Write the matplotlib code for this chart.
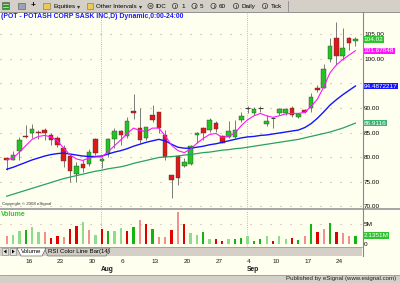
import matplotlib
matplotlib.use('Agg')
import matplotlib.pyplot as plt
from matplotlib.patches import Rectangle, Circle, Polygon
import matplotlib.transforms as mtransforms

# ---------------- data ----------------
opens = [79.7, 79.4, 81.3, 84.3, 84.8, 85.1, 85.5, 84.5, 83.8, 81.9,
         80.3, 76.5, 78.6, 78.5, 83.7, 79.2, 80.8, 83.7, 85.3, 84.3,
         89.4, 85.9, 83.8, 88.6, 89.1, 84.4, 76.3, 80.3, 78.2, 78.6,
         84.5, 85.9, 85.5, 87.0, 84.3, 84.0, 84.1, 87.5, 89.9, 89.0,
         89.9, 86.7, 87.9, 88.9, 88.9, 89.9, 88.1, 89.6, 89.9, 94.1,
         94.1, 99.9, 104.2, 100.7, 104.3, 103.7]
highs = [80.1, 81.3, 84.0, 86.5, 86.7, 85.6, 85.9, 84.8, 84.2, 82.4,
         80.4, 79.0, 79.4, 81.6, 83.9, 80.1, 83.8, 85.9, 85.5, 88.2,
         92.8, 89.9, 86.2, 90.6, 89.2, 85.5, 76.4, 80.4, 79.7, 82.5,
         85.2, 86.2, 87.9, 87.4, 84.5, 87.4, 87.5, 89.2, 90.4, 90.3,
         90.4, 88.6, 88.2, 90.1, 90.1, 90.4, 89.0, 89.7, 93.0, 94.7,
         98.9, 104.3, 107.5, 106.3, 104.5, 104.4]
lows = [77.4, 79.3, 79.4, 83.9, 83.8, 83.6, 83.5, 82.4, 82.1, 78.0,
        75.0, 74.8, 77.0, 78.2, 80.4, 77.7, 80.1, 81.8, 82.5, 83.8,
        87.8, 82.8, 83.5, 87.2, 84.8, 79.4, 71.6, 74.3, 77.9, 78.4,
        82.8, 83.5, 85.2, 85.2, 82.8, 83.8, 83.8, 87.2, 88.9, 88.6,
        89.2, 86.3, 85.9, 88.6, 88.5, 88.2, 87.9, 89.0, 89.2, 93.3,
        94.0, 99.3, 98.8, 99.8, 101.8, 102.6]
closes = [79.3, 80.5, 83.5, 84.1, 85.7, 84.8, 84.8, 83.5, 82.4, 79.2,
          77.2, 78.2, 77.7, 81.0, 80.8, 79.6, 83.7, 85.3, 84.5, 87.4,
          89.0, 83.5, 86.1, 87.5, 85.9, 80.1, 75.3, 75.8, 79.0, 82.3,
          85.0, 85.0, 87.5, 85.7, 82.9, 85.4, 85.5, 88.4, 89.95, 89.7,
          89.95, 87.4, 87.95, 89.7, 89.7, 88.6, 88.8, 89.2, 92.3, 93.7,
          97.9, 102.7, 100.7, 102.2, 103.3, 104.02]
# candle colour from the RSI colour study: g = green, r = red, d = doji
bar_colors = list("rggrgrrrrr"
                  "rgrgrgggrg"
                  "rrgrrrrrgg"
                  "grgrrgggdg"
                  "dgdggrgrgr"
                  "ggrgrg")
ma_fast = [79.4, 79.8, 81.0, 82.3, 83.6, 84.2, 84.4, 84.1, 83.3, 81.8,
           80.4, 79.6, 79.3, 79.8, 80.0, 80.0, 81.1, 82.3, 83.5, 84.8,
           85.9, 85.4, 85.2, 85.9, 85.9, 84.3, 82.4, 81.3, 80.9, 81.6,
           82.8, 83.8, 84.6, 84.8, 84.0, 84.2, 84.9, 86.4, 87.6, 88.4,
           88.9, 88.4, 88.1, 88.4, 88.8, 88.9, 88.9, 89.1, 90.3, 91.8,
           94.3, 97.2, 98.8, 99.9, 100.8, 101.67848]
ma_mid = [77.5, 77.9, 78.4, 78.9, 79.4, 79.8, 80.2, 80.5, 80.7, 80.8,
          80.6, 80.4, 80.2, 80.1, 80.1, 80.2, 80.6, 81.0, 81.3, 81.7,
          82.2, 82.6, 83.0, 83.3, 83.6, 83.3, 82.6, 82.0, 81.8, 81.8,
          82.0, 82.2, 82.5, 82.7, 83.0, 83.3, 83.6, 83.9, 84.1, 84.2,
          84.4, 84.5, 84.7, 84.9, 85.1, 85.3, 85.5, 86.0, 86.8, 87.9,
          89.2, 90.6, 91.7, 92.7, 93.6, 94.4872217]
ma_slow = [72.0, 72.4, 72.8, 73.2, 73.6, 74.0, 74.4, 74.8, 75.2, 75.6,
           75.9, 76.2, 76.5, 76.8, 77.1, 77.3, 77.6, 77.8, 78.0, 78.3,
           78.7, 79.0, 79.3, 79.6, 79.9, 80.0, 80.1, 80.2, 80.4, 80.5,
           80.7, 80.9, 81.0, 81.2, 81.4, 81.5, 81.7, 81.8, 82.0, 82.2,
           82.4, 82.6, 82.8, 83.0, 83.2, 83.4, 83.6, 83.9, 84.2, 84.5,
           84.8, 85.1, 85.5, 85.9, 86.4, 86.9116]
volumes = [2.08, 2.33, 3.33, 3.58, 4.42, 3.0, 3.0, 1.5, 2.17, 1.92,
           3.75, 4.67, 5.58, 3.58, 2.33, 3.83, 3.42, 3.42, 4.17, 3.42,
           4.42, 6.08, 5.08, 3.75, 1.92, 1.92, 3.58, 8.17, 5.08, 2.75,
           2.33, 3.08, 1.25, 1.25, 0.92, 1.25, 1.25, 1.67, 2.08, 0.92,
           1.25, 2.17, 0.92, 2.17, 1.25, 1.67, 1.08, 2.17, 5.0, 3.0,
           3.75, 5.25, 3.0, 2.75, 2.08, 2.1351]
vol_colors = ["lr", "lg", "lg", "g", "lg", "lg", "lr", "r", "r", "lr",
              "r", "r", "lg", "lr", "lg", "r", "g", "lg", "lg", "r",
              "g", "lr", "r", "g", "lr", "lr", "r", "lr", "r", "lg",
              "lg", "g", "lg", "r", "r", "lg", "g", "g", "lg", "g",
              "g", "lg", "r", "lg", "lg", "r", "g", "lr", "g", "r",
              "lr", "g", "r", "lr", "lr", "g"]
day_labels = ['16', '23', '30', '6', '13', '20', '27', '4', '10', '17', '24']
day_index = [3, 8, 13, 18, 23, 28, 33, 38, 42, 47, 52]
month_labels = ['Aug', 'Sep']
month_index = [15, 38]
price_ticks = [70, 75, 80, 85, 90, 95, 100, 105]
hidden_ticks = [95]   # covered by the blue value box in the original

# ---------------- style ----------------
CREAM = '#fffff0'
GRAY = '#d4d0c8'
FONT = ['Liberation Sans', 'DejaVu Sans']
plt.rcParams['font.family'] = FONT
W, H = 400, 283
fig = plt.figure(figsize=(4, 2.83), dpi=100)
fig.patch.set_facecolor(CREAM)


def fpos(x0, y0, x1, y1):
    return [x0 / W, 1 - y1 / H, (x1 - x0) / W, (y1 - y0) / H]


ax = fig.add_axes(fpos(0, 12, 362, 209))
axv = fig.add_axes(fpos(0, 210, 362, 247))
for a in (ax, axv):
    a.set_facecolor(CREAM)
    for s in a.spines.values():
        s.set_visible(False)
    a.set_xlim(-1.057, 56.04)
    a.set_xticks([])
    a.yaxis.tick_right()
    a.tick_params(axis='y', length=0, pad=1.5, labelsize=4.6, labelcolor='#000000')

ax.set_ylim(69.39, 109.59)
axv.set_ylim(-0.675, 8.575)

# grid (dotted rows) and month separators
for p in price_ticks:
    ax.axhline(p, color='#c8a8a8', lw=0.8, ls=(0, (1, 8)), zorder=0)
axv.axhline(5, color='#c8a8a8', lw=0.8, ls=(0, (1, 8)), zorder=0)
for mi in month_index:
    for a in (ax, axv):
        a.axvline(mi - 0.05, color='#e08a8a', lw=0.6, ls=(0, (1, 1.6)), zorder=0)

ax.set_yticks(price_ticks)
ax.set_yticklabels(['' if p in hidden_ticks else '%.2f' % p for p in price_ticks])
axv.set_yticks([0, 5])
axv.set_yticklabels(['0', '5M'])

# candles
CMAP = {'g': '#22c422', 'r': '#e01818'}
bw = 0.72
for i in range(len(opens)):
    ax.vlines(i, lows[i], highs[i], color='#7a7a7a', lw=0.7, zorder=2)
    c = bar_colors[i]
    if c == 'd':
        ax.hlines(closes[i], i - bw / 2, i + bw / 2, color='#404040', lw=0.8, zorder=3)
    else:
        lo = min(opens[i], closes[i])
        hi = max(opens[i], closes[i])
        ax.add_patch(Rectangle((i - bw / 2, lo), bw, hi - lo, facecolor=CMAP[c],
                               edgecolor='#3a3a3a', lw=0.3, zorder=3))

xs = list(range(len(opens)))
ax.plot(xs, ma_slow, color='#2aa060', lw=0.9, zorder=4)
ax.plot(xs, ma_mid, color='#1414ff', lw=1.0, zorder=4)
ax.plot(xs, ma_fast, color='#ff14ff', lw=0.8, zorder=4)

# volume
VMAP = {'g': '#14b414', 'lg': '#8fdc8f', 'r': '#e00000', 'lr': '#f29090'}
axv.bar(xs, volumes, width=0.36, color=[VMAP[c] for c in vol_colors], zorder=2)

# value boxes on the right scale
trp = mtransforms.blended_transform_factory(ax.transAxes, ax.transData)
for val, txt, bg in [(closes[-1], '104.02', '#2fc42f'),
                     (ma_fast[-1], '101.67848', '#ff14ff'),
                     (ma_mid[-1], '94.4872217', '#1414ff'),
                     (ma_slow[-1], '86.9116', '#3cb371')]:
    ax.text(1.004, val, txt, transform=trp, fontsize=4.6, color='white',
            va='center', ha='left', clip_on=False, zorder=6,
            bbox=dict(boxstyle='square,pad=0.12', fc=bg, ec='none'))
trv = mtransforms.blended_transform_factory(axv.transAxes, axv.transData)
axv.text(1.004, volumes[-1], '2.1351M', transform=trv, fontsize=4.6, color='white',
         va='center', ha='left', clip_on=False, zorder=6,
         bbox=dict(boxstyle='square,pad=0.12', fc='#2fc42f', ec='none'))

# title, copyright, volume label
ax.text(0.003, 1 - 5.0 / 197, '(POT - POTASH CORP SASK INC,D) Dynamic,0:00-24:00',
        transform=ax.transAxes, fontsize=4.95, fontweight='bold', color='#1a1aff',
        va='center', ha='left')
ax.text(0.006, 1 - 192.5 / 197, 'Copyright \u00a9 2008 eSignal', transform=ax.transAxes,
        fontsize=3.2, color='#333333', va='center', ha='left')
axv.text(0.004, 1 - 5.0 / 37, 'Volume', transform=axv.transAxes, fontsize=5,
         fontweight='bold', color='#33c433', va='center', ha='left')

# date axis labels
trd = mtransforms.blended_transform_factory(axv.transData, fig.transFigure)
for lab, idx in zip(day_labels, day_index):
    axv.text(idx - 0.1, 1 - 261.5 / H, lab, transform=trd, fontsize=4.6,
             color='#1a1a1a', ha='left', va='center', clip_on=False)
for lab, idx in zip(month_labels, month_index):
    axv.text(idx - 0.1, 1 - 269.5 / H, lab, transform=trd, fontsize=4.8,
             fontweight='bold', color='#1a1a1a', ha='left', va='center', clip_on=False)

# ---------------- window chrome overlay ----------------
ov = fig.add_axes([0, 0, 1, 1], zorder=10)
ov.set_xlim(0, W)
ov.set_ylim(H, 0)
ov.axis('off')
ov.patch.set_alpha(0)

# toolbar
ov.add_patch(Rectangle((0, 0), 400, 12, fc=GRAY, ec='none'))
ov.plot([0, 400], [12, 12], color='#808080', lw=0.6)
ov.add_patch(Rectangle((1.5, 2), 7, 7, fc='#2e9b2e', ec='#555555', lw=0.4))
ov.plot([2.5, 7.5], [4, 4], color='#e8e8e8', lw=0.5)
ov.plot([2.5, 7.5], [6.5, 6.5], color='#e8e8e8', lw=0.5)
ov.add_patch(Rectangle((17.5, 2.5), 7, 6, fc='#9aa4b0', ec='#555555', lw=0.4))
ov.text(33, 6, '+', fontsize=6, fontweight='bold', ha='center', va='center')
for fx in (43, 86.5):
    ov.add_patch(Rectangle((fx, 3), 6.5, 5.5, fc='#e8c860', ec='#8a7020', lw=0.4))
tb = dict(fontsize=4.5, va='center', ha='left', color='#000000')
ov.text(53, 6.2, 'Equities', **tb)
ov.text(77, 6.2, '\u25be', fontsize=4.5, va='center', ha='left', color='#333333',
        family=['DejaVu Sans'])
ov.text(96, 6.2, 'Other Intervals', **tb)
ov.text(138.5, 6.2, '\u25be', fontsize=4.5, va='center', ha='left', color='#333333',
        family=['DejaVu Sans'])
for cx in (150.5, 175, 194.5, 213.5, 236, 265):
    ov.add_patch(Circle((cx, 6), 2.6, fc='none', ec='#333333', lw=0.5))
ov.text(150.5, 6.1, '\u00d7', fontsize=4, ha='center', va='center')
for cx in (175, 194.5, 213.5, 236, 265):
    ov.plot([cx, cx], [4.7, 7.3], color='#333333', lw=0.5)
ov.text(155, 6.2, 'IDC', **tb)
ov.text(181, 6.2, '1', **tb)
ov.text(200, 6.2, '5', **tb)
ov.text(218.5, 6.2, '60', **tb)
ov.text(241.5, 6.2, 'Daily', **tb)
ov.text(270.5, 6.2, 'Tick', **tb)
ov.plot([287.5, 287.5], [1, 11], color='#8a8a8a', lw=0.6)

# pane separators
ov.add_patch(Rectangle((0, 208.4), 400, 1.8, fc='#a8a8a8', ec='none'))
ov.plot([362.5, 362.5], [12, 256], color='#888888', lw=0.8)

# tab bar
ov.add_patch(Rectangle((0, 247), 362, 9, fc=GRAY, ec='none'))
ov.plot([0, 362], [247, 247], color='#909090', lw=0.5)
for bx, tri in ((1.5, [(6.5, 249.5), (6.5, 253.5), (3.8, 251.5)]),
                (9.5, [(12, 249.5), (12, 253.5), (14.7, 251.5)])):
    ov.add_patch(Rectangle((bx, 248.3), 6.5, 6.5, fc='#e4e2dc', ec='#808080', lw=0.4))
    ov.add_patch(Polygon(tri, closed=True, fc='#000000', ec='none'))
ov.add_patch(Polygon([(44, 248), (48, 256), (106, 256), (110, 248)], closed=True,
                     fc='#cfcbc2', ec='#555555', lw=0.4))
ov.add_patch(Polygon([(17, 248), (21, 256), (42, 256), (46, 248)], closed=True,
                     fc='#ffffff', ec='#444444', lw=0.4))
ov.text(21, 251.8, 'Volume', fontsize=4.4, va='center', ha='left')
ov.text(47.5, 251.8, 'RSI Color Line Bar(14)', fontsize=4.4, va='center', ha='left')

# status bar
ov.add_patch(Rectangle((0, 274.5), 400, 8.5, fc=GRAY, ec='none'))
ov.plot([0, 400], [274.5, 274.5], color='#909090', lw=0.5)
ov.text(396, 278.8, 'Published by eSignal (www.esignal.com)', fontsize=4.4,
        va='center', ha='right', color='#222222')

fig.savefig('out.png', dpi=100, facecolor=fig.get_facecolor())
